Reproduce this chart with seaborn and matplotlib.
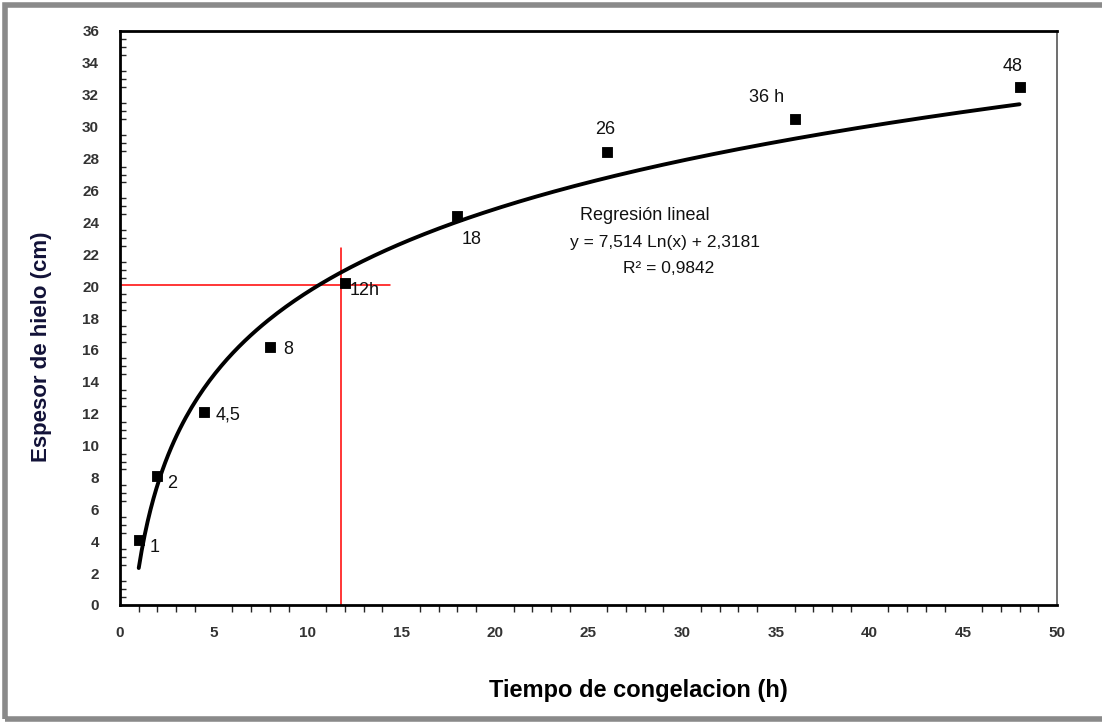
import numpy as np
import pandas as pd
import matplotlib
matplotlib.use("Agg")
import matplotlib.pyplot as plt
from matplotlib.patches import Rectangle
from matplotlib.ticker import MultipleLocator
import seaborn as sns

# Measured ice thickness vs. freezing time
horas = [1, 2, 4.5, 8, 12, 18, 26, 36, 48]
espesor = [4.1, 8.1, 12.1, 16.2, 20.2, 24.4, 28.4, 30.5, 32.5]
etiquetas = ["1", "2", "4,5", "8", "12h", "18", "26", "36 h", "48"]

# Logarithmic fit coefficients
coef_a = 7.514
coef_b = 2.3181
r2 = 0.9842

# Reference point read on the curve
ref_x = 11.8
ref_y = 20.1

x_ticks = list(range(0, 51, 5))
y_ticks = list(range(0, 37, 2))

sns.set_theme(style="white")
plt.rcParams["font.family"] = ["Liberation Sans", "DejaVu Sans"]

fig = plt.figure(figsize=(11.02, 7.22), dpi=100)
ax = fig.add_axes([120 / 1102, 1 - 605 / 722, (1057 - 120) / 1102, (605 - 31) / 722])

# Outer frame of the figure
fig.patches.append(Rectangle((5 / 1102, 3 / 722), 1.2, 1 - 8 / 722,
                             transform=fig.transFigure, fill=False,
                             edgecolor="#8a8a8a", linewidth=4, zorder=0))

df_pts = pd.DataFrame({"t": horas, "e": espesor})
xs = np.linspace(1, 48, 300)
df_fit = pd.DataFrame({"t": xs, "e": coef_a * np.log(xs) + coef_b})

sns.lineplot(data=df_fit, x="t", y="e", ax=ax, color="black", linewidth=2.8, zorder=3)
sns.scatterplot(data=df_pts, x="t", y="e", ax=ax, marker="s", s=60,
                color="black", edgecolor="black", zorder=4)

# Reference cross-hair
ax.plot([0, 14.4], [ref_y, ref_y], color="red", linewidth=1.1, zorder=2)
ax.plot([ref_x, ref_x], [0, 22.4], color="red", linewidth=1.1, zorder=2)

# Point labels (offsets in data units)
offsets = {
    "1": (0.6, -0.5, "left"),
    "2": (0.5, -0.45, "left"),
    "4,5": (0.6, -0.2, "left"),
    "8": (0.7, -0.2, "left"),
    "12h": (0.27, -0.45, "left"),
    "18": (0.25, -1.5, "left"),
    "26": (-0.1, 1.4, "center"),
    "36 h": (-1.5, 1.3, "center"),
    "48": (-0.35, 1.3, "center"),
}
for xv, yv, lab in zip(horas, espesor, etiquetas):
    dx, dy, ha = offsets[lab]
    ax.text(xv + dx, yv + dy, lab, fontsize=13, ha=ha, va="center", color="#111111")

ax.text(28.0, 24.4, "Regresión lineal", fontsize=13, ha="center", va="center", color="#111111")
ax.text(29.1, 22.75, "y = 7,514 Ln(x) + 2,3181", fontsize=12.5, ha="center", va="center", color="#111111")
ax.text(29.3, 21.1, "R² = 0,9842", fontsize=12.5, ha="center", va="center", color="#111111")

ax.set_xlim(0, 50)
ax.set_ylim(0, 36)
ax.set_xticks(x_ticks)
ax.set_yticks(y_ticks)
ax.xaxis.set_minor_locator(MultipleLocator(1))
ax.yaxis.set_minor_locator(MultipleLocator(0.5))
ax.tick_params(axis="x", which="major", direction="inout", length=12, width=1.6,
               labelsize=11, pad=9, colors="black")
ax.tick_params(axis="x", which="minor", direction="out", length=5, width=1.0, bottom=True)
ax.tick_params(axis="y", which="major", direction="out", length=10, width=1.6,
               labelsize=11, pad=5, colors="black")
ax.tick_params(axis="y", which="minor", direction="in", length=4, width=1.0, left=True)
for lbl in ax.get_xticklabels() + ax.get_yticklabels():
    lbl.set_color("#333333")
    lbl.set_fontweight("bold")

for side in ["left", "bottom", "top"]:
    ax.spines[side].set_color("black")
    ax.spines[side].set_linewidth(2.0)
ax.spines["right"].set_color("#555555")
ax.spines["right"].set_linewidth(1.2)

ax.set_xlabel("Tiempo de congelacion (h)", fontsize=17, fontweight="bold", color="black")
ax.set_ylabel("Espesor de hielo (cm)", fontsize=16, fontweight="bold", color="#121238")
ax.xaxis.set_label_coords((638 - 120) / (1057 - 120), -(690 - 605) / (605 - 31))
ax.yaxis.set_label_coords(-(120 - 42) / (1057 - 120), (605 - 347) / (605 - 31))
ax.xaxis.label.set_va("center")
ax.yaxis.label.set_va("center")

fig.savefig("out.png", dpi=100, facecolor="white")
